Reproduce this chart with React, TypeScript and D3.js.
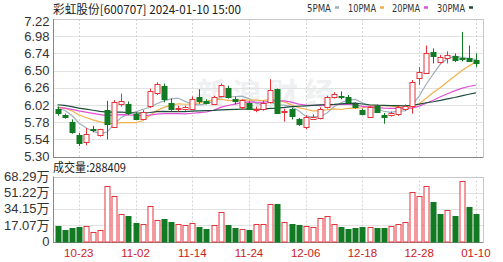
import React from "react";
import * as d3 from "d3";

const dates = [
  "10-18","10-19","10-20","10-23","10-24","10-25","10-26","10-27","10-30","10-31",
  "11-01","11-02","11-03","11-06","11-07","11-08","11-09","11-10","11-13","11-14",
  "11-15","11-16","11-17","11-20","11-21","11-22","11-23","11-24","11-27","11-28",
  "11-29","11-30","12-01","12-04","12-05","12-06","12-07","12-08","12-11","12-12",
  "12-13","12-14","12-15","12-18","12-19","12-20","12-21","12-22","12-25","12-26",
  "12-27","12-28","12-29","01-02","01-03","01-04","01-05","01-08","01-09","01-10",
];
const opens = [
  5.97,5.88,5.79,5.60,5.50,5.69,5.60,5.95,5.72,6.03,
  6.04,5.89,5.82,6.00,6.19,6.28,6.05,5.96,5.96,5.97,
  6.13,6.07,6.04,6.14,6.26,6.11,5.99,6.05,5.95,5.97,
  6.06,6.24,5.92,5.96,5.82,5.72,5.83,5.84,5.99,6.13,
  6.15,6.13,6.03,5.95,5.86,6.00,5.88,5.88,5.89,5.96,
  6.00,6.40,6.47,6.76,6.62,6.68,6.71,6.68,6.67,6.65,
];
const highs = [
  6.00,5.90,5.82,5.63,5.70,5.73,5.69,6.08,6.09,6.18,
  6.07,5.92,5.95,6.25,6.34,6.32,6.11,6.01,6.01,6.14,
  6.24,6.10,6.15,6.32,6.29,6.14,6.10,6.07,6.00,6.08,
  6.38,6.25,5.97,5.98,5.84,5.88,5.89,5.99,6.15,6.20,
  6.21,6.16,6.06,5.97,6.01,6.03,5.91,5.93,6.01,6.03,
  6.37,6.55,6.85,6.81,6.72,6.77,6.74,7.04,6.85,6.74,
];
const lows = [
  5.87,5.83,5.62,5.45,5.46,5.64,5.58,5.54,5.70,6.00,
  5.88,5.81,5.81,5.98,6.16,6.06,5.94,5.93,5.94,5.95,
  6.04,6.03,6.02,6.13,6.11,6.03,5.96,5.96,5.92,5.94,
  6.04,5.90,5.79,5.82,5.73,5.68,5.81,5.82,5.97,6.11,
  6.10,6.03,5.97,5.88,5.84,5.91,5.76,5.86,5.87,5.94,
  5.90,6.30,6.46,6.60,6.60,6.60,6.62,6.63,6.62,6.55,
];
const closes = [
  5.91,5.85,5.65,5.49,5.62,5.67,5.68,5.76,6.06,6.07,
  5.91,5.83,5.92,6.22,6.31,6.11,5.97,5.98,5.99,6.11,
  6.07,6.05,6.13,6.30,6.13,6.07,6.09,5.96,5.97,6.05,
  6.23,5.91,5.94,5.87,5.75,5.85,5.86,5.96,6.13,6.18,
  6.13,6.06,5.99,5.90,5.99,5.93,5.86,5.91,5.99,6.00,
  6.34,6.48,6.74,6.71,6.69,6.72,6.65,6.66,6.64,6.60,
];
// volume in 万 (10k shares)
const volumes = [
  16.8,11.6,14.7,15.1,15.8,10.2,12.3,57.8,48.3,29.1,
  27.3,19.3,18.3,37.5,22.8,23.8,20.7,18.3,17.5,19.3,
  15.1,13.0,17.5,30.5,17.5,14.7,13.3,11.6,18.3,18.3,
  39.3,39.3,20.4,18.3,17.5,15.8,15.5,24.6,26.3,18.3,
  15.1,13.0,14.0,15.4,15.1,14.0,14.7,16.5,18.9,21.0,
  52.5,47.3,58.8,41.4,29.4,33.6,26.7,63.8,36.4,28.84,
];
// closes of the 29 sessions before the window (estimated so the averages match)
const priorCloses = [
  6.12,6.15,6.10,6.08,6.11,6.13,6.09,6.06,6.10,6.06,
  6.02,5.98,5.95,5.97,6.01,6.04,6.00,5.96,5.93,5.95,
  5.98,6.02,6.05,6.01,5.99,5.97,6.00,6.03,5.95,
];
const priceTicks = [5.30,5.54,5.78,6.02,6.26,6.50,6.74,6.98,7.22];
const volTicks = [0,17.07,34.15,51.22,68.29];
const xTickDates = ["10-23","11-02","11-14","11-24","12-06","12-18","12-28","01-10"];
const maPeriods = [5,10,20,30];
const maNames = ["5PMA","10PMA","20PMA","30PMA"];
const maColors = ["#9fb0bd","#f2b04a","#e24fd6","#1d4d3c"];
const lastVolume = "288409";
const title = "彩虹股份[600707] 2024-01-10 15:00";

const RED = "#e8323a";
const GREEN = "#127a22";

export default function App() {
  const W = 503, H = 262;
  const left = 53, right = 483;
  const pTop = 19, pBot = 156.7;
  const vTop = 176.5, vBot = 241.5;

  const x = d3.scaleBand<string>().domain(dates).range([54, 479.4]);
  const cx = (d: string) => (x(d) as number) + x.bandwidth() / 2;
  const y = d3.scaleLinear().domain([5.30, 7.22]).range([pBot, pTop]);
  const yv = d3.scaleLinear().domain([0, 68.29]).range([vBot, vTop]);

  const all = priorCloses.concat(closes);
  const off = priorCloses.length;
  const mas = maPeriods.map((n) =>
    closes.map((_, i) => d3.mean(all.slice(off + i - n + 1, off + i + 1)) as number)
  );
  const line = d3.line<number>().x((_, i) => cx(dates[i])).y((v) => y(v)).curve(d3.curveLinear);

  const up = (i: number) => {
    if (closes[i] > opens[i]) return true;
    if (closes[i] < opens[i]) return false;
    const prev = i > 0 ? closes[i - 1] : priorCloses[priorCloses.length - 1];
    return closes[i] >= prev;
  };
  const volUp = (i: number) => {
    const prev = i > 0 ? closes[i - 1] : priorCloses[priorCloses.length - 1];
    return closes[i] >= prev;
  };

  const bw = 5;
  const px = (v: number) => Math.round(v) + 0.5;

  return (
    <svg width={W} height={H} style={{ position: "absolute", left: 0, top: 0, background: "#fff" }}
      fontFamily="Liberation Sans, Arial, sans-serif">
      <rect x={0} y={0} width={W} height={H} fill="#fff" />
      {/* title */}
      <text x={53} y={14} fontSize={12} fontFamily="Noto Sans CJK SC, sans-serif" fill="#222"
        textLength={188} lengthAdjust="spacingAndGlyphs">{title}</text>
      {/* legend */}
      {maNames.map((n, k) => {
        const xs = [307, 348, 392, 437][k];
        const w = k === 0 ? 24 : 28;
        return (
          <g key={n}>
            <text x={xs} y={11.5} fontSize={10} fill="#333" fontFamily="DejaVu Sans, sans-serif"
              textLength={w} lengthAdjust="spacingAndGlyphs">{n}</text>
            <line x1={xs + w + 4} x2={xs + w + 8} y1={7.5} y2={7.5} stroke={maColors[k]} strokeWidth={2.5} />
          </g>
        );
      })}

      {/* watermark */}
      <text x={268} y={104} fontSize={30} fontWeight="bold" fill="#eef0f2" textAnchor="middle"
        fontFamily="Noto Sans CJK SC, sans-serif" letterSpacing={6}>新浪财经</text>

      {/* price grid */}
      {priceTicks.map((t) => (
        <line key={"pg" + t} x1={left} x2={right} y1={px(y(t))} y2={px(y(t))} stroke="#e2e2e2" />
      ))}
      {xTickDates.map((d) => (
        <line key={"pv" + d} x1={px(cx(d))} x2={px(cx(d))} y1={pTop} y2={pBot} stroke="#d4d4d4" strokeDasharray="2,2" />
      ))}
      <rect x={left + 0.5} y={px(pTop)} width={right - left} height={px(pBot) - px(pTop)} fill="none" stroke="#c8c8c8" />
      <line x1={left + 0.5} x2={left + 0.5} y1={pTop} y2={px(pBot)} stroke="#888" />
      <line x1={left} x2={right} y1={px(pBot)} y2={px(pBot)} stroke="#888" />

      {/* price labels */}
      {priceTicks.map((t) => (
        <text key={"pl" + t} x={49.5} y={Math.max(y(t), 21) + 4.5} fontSize={13} fill="#333" textAnchor="end">
          {t.toFixed(2)}
        </text>
      ))}

      {/* MA lines */}
      {mas.map((m, k) => (
        <path key={"ma" + k} d={line(m) as string} fill="none" stroke={maColors[k]} strokeWidth={1.2} />
      ))}

      {/* candles */}
      {dates.map((d, i) => {
        const c = px(cx(d));
        const isUp = up(i);
        const col = isUp ? RED : GREEN;
        const top = y(Math.max(opens[i], closes[i]));
        const bot = y(Math.min(opens[i], closes[i]));
        const bt = Math.round(top) + 0.5;
        const bb = Math.max(Math.round(bot) + 0.5, bt + 1);
        return (
          <g key={"c" + d}>
            <line x1={c} x2={c} y1={y(highs[i])} y2={bt} stroke={col} />
            <line x1={c} x2={c} y1={bb} y2={y(lows[i])} stroke={col} />
            <rect x={c - bw / 2} y={bt} width={bw} height={bb - bt}
              fill={isUp ? "#fff" : col} stroke={col} />
          </g>
        );
      })}

      {/* volume header */}
      <text x={53} y={172} fontSize={12} fill="#222" fontFamily="Noto Sans CJK SC, sans-serif"
        textLength={73} lengthAdjust="spacingAndGlyphs">{"成交量:" + lastVolume}</text>

      {/* volume grid */}
      {volTicks.slice(1, 4).map((t) => (
        <line key={"vg" + t} x1={left} x2={right} y1={px(yv(t))} y2={px(yv(t))} stroke="#e2e2e2" />
      ))}
      {xTickDates.map((d) => (
        <line key={"vv" + d} x1={px(cx(d))} x2={px(cx(d))} y1={vTop} y2={vBot} stroke="#d4d4d4" strokeDasharray="2,2" />
      ))}
      <rect x={left + 0.5} y={px(vTop)} width={right - left} height={px(vBot) - px(vTop)} fill="none" stroke="#c8c8c8" />
      <line x1={left + 0.5} x2={left + 0.5} y1={vTop} y2={px(vBot)} stroke="#888" />
      <line x1={left} x2={right} y1={px(vBot)} y2={px(vBot)} stroke="#888" />

      {volTicks.map((t) => (
        <text key={"vl" + t} x={49.5} y={yv(t) + 4.5} fontSize={13} fill="#333" textAnchor="end"
          fontFamily="Liberation Sans, Noto Sans CJK SC, sans-serif">
          {t === 0 ? "0" : t.toFixed(2) + "万"}
        </text>
      ))}

      {/* volume bars */}
      {dates.map((d, i) => {
        const c = px(cx(d));
        const isUp = volUp(i);
        const col = isUp ? RED : GREEN;
        const t = Math.round(yv(volumes[i])) + 0.5;
        const b = px(vBot) - 0.5;
        return (
          <rect key={"v" + d} x={c - bw / 2} y={t} width={bw} height={Math.max(b - t, 1)}
            fill={isUp ? "#fff" : col} stroke={col} />
        );
      })}

      {/* x labels */}
      {xTickDates.map((d) => (
        <text key={"xl" + d} x={cx(d)} y={256.5} fontSize={11.5} fill="#cc2020" textAnchor="middle">{d}</text>
      ))}
    </svg>
  );
}
